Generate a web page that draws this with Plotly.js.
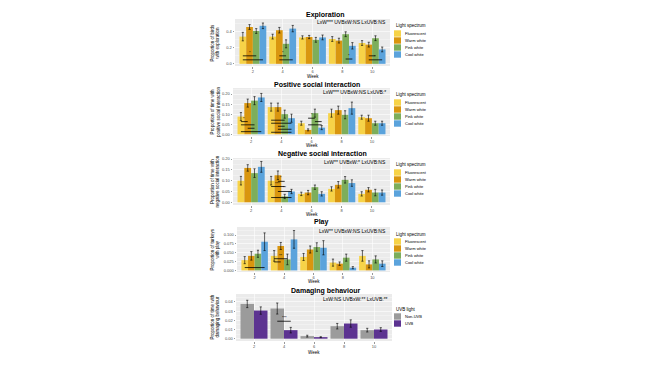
<!DOCTYPE html>
<html><head><meta charset="utf-8">
<script src="https://cdn.plot.ly/plotly-3.0.1.min.js"></script>
<style>html,body{margin:0;padding:0;background:#fff;}#chart{width:650px;height:366px;}</style>
</head><body><div id="chart"></div>
<script>
// ---------- data ----------
const weeks = ["2", "4", "6", "8", "10"];
const spectra = ["Fluorescent", "Warm white", "Pink white", "Cool white"];
const uvbLevels = ["Non-UVB", "UVB"];
const spectrumColors = ["#F7D348", "#D9960F", "#7DAE5B", "#5BA3DC"];
const uvbColors = ["#9B9B9B", "#5C3391"];

// rows = series, columns = weeks
const explorationMean = [
  [0.34, 0.34, 0.33, 0.31, 0.26],
  [0.46, 0.42, 0.335, 0.29, 0.24],
  [0.41, 0.25, 0.30, 0.37, 0.32],
  [0.475, 0.44, 0.33, 0.225, 0.18]
];
const explorationSE = [
  [0.053, 0.03, 0.02, 0.03, 0.03],
  [0.03, 0.035, 0.02, 0.03, 0.03],
  [0.03, 0.05, 0.03, 0.03, 0.03],
  [0.035, 0.04, 0.03, 0.04, 0.03]
];
const positiveMean = [
  [0.088, 0.135, 0.055, 0.105, 0.085],
  [0.155, 0.135, 0.022, 0.12, 0.08],
  [0.167, 0.10, 0.105, 0.097, 0.055],
  [0.183, 0.08, 0.033, 0.13, 0.055]
];
const positiveSE = [
  [0.02, 0.02, 0.01, 0.02, 0.01],
  [0.02, 0.02, 0.005, 0.02, 0.015],
  [0.02, 0.02, 0.02, 0.02, 0.01],
  [0.02, 0.02, 0.01, 0.03, 0.01]
];
const negativeMean = [
  [0.10, 0.10, 0.039, 0.062, 0.039],
  [0.159, 0.125, 0.045, 0.081, 0.058],
  [0.135, 0.027, 0.07, 0.104, 0.045],
  [0.164, 0.05, 0.039, 0.089, 0.045]
];
const negativeSE = [
  [0.02, 0.02, 0.008, 0.01, 0.01],
  [0.015, 0.02, 0.01, 0.015, 0.01],
  [0.02, 0.01, 0.01, 0.015, 0.015],
  [0.025, 0.01, 0.01, 0.015, 0.012]
];
const playMean = [
  [0.029, 0.041, 0.038, 0.022, 0.041],
  [0.041, 0.069, 0.059, 0.019, 0.017],
  [0.047, 0.031, 0.066, 0.036, 0.031],
  [0.081, 0.0876, 0.064, 0.0076, 0.019]
];
const playSE = [
  [0.01, 0.015, 0.01, 0.01, 0.015],
  [0.012, 0.01, 0.01, 0.005, 0.01],
  [0.01, 0.015, 0.012, 0.01, 0.01],
  [0.025, 0.025, 0.02, 0.003, 0.008]
];
const damagingMean = [
  [0.0378, 0.0328, 0.0028, 0.0136, 0.0093],
  [0.0306, 0.0093, 0.0017, 0.0165, 0.0100]
];
const damagingSE = [
  [0.004, 0.006, 0.001, 0.003, 0.002],
  [0.004, 0.003, 0.0005, 0.004, 0.002]
];

// significance brackets: [weekIndex, fromSeries, toSeries, yValue, label]
const explorationBrackets = [[0,0,2,0.10,"*"],[0,0,3,0.05,""],[1,1,2,0.10,"*"],[1,1,3,0.05,""],[3,2,3,0.06,"*"],[4,1,2,0.10,""],[4,1,3,0.05,"*"]];
const positiveBrackets = [[0,0,1,0.063,"*"],[0,0,2,0.047,""],[0,1,2,0.03,""],[0,0,3,0.013,""],[1,0,2,0.07,""],[1,0,3,0.055,""],[1,1,2,0.04,""],[1,1,3,0.025,""],[1,0,3,0.01,""],[2,1,2,0.08,"*"],[2,2,3,0.063,""],[2,1,3,0.047,""]];
const negativeBrackets = [[1,1,2,0.097,"*"],[1,0,2,0.073,"***"],[1,1,3,0.05,"**"],[1,0,3,0.022,""]];
const playBrackets = [[0,0,3,0.008,""],[1,0,2,0.033,"**"],[1,0,1,0.024,""]];
const damagingBrackets = [[1,0,1,0.019,"***"]];

// ---------- layout helpers ----------
const W = 650, H = 366;
const px = v => v / W;
const py = v => 1 - v / H;
const FONT = "Liberation Sans, Arial, sans-serif";

const panels = [
  {title:"Exploration", tx:325, ty:15, sub:"LxW*** UVBxW:NS LxUVB:NS", sy:22,
   ytitle:"Proportion of birds<br>with exploration", means:explorationMean, se:explorationSE, brackets:explorationBrackets,
   names:spectra, colors:spectrumColors, legendTitle:"Light spectrum", legY:26,
   x:[235,390], y:[19,66], range:[-0.027,0.56], dtick:0.2, fmt:".1f", weekY:76},
  {title:"Positive social interaction", tx:317, ty:84, sub:"LxW*** UVBxW:NS LxUVB:*", sy:92,
   ytitle:"Proportion of time with<br>positive social interaction", means:positiveMean, se:positiveSE, brackets:positiveBrackets,
   names:spectra, colors:spectrumColors, legendTitle:"Light spectrum", legY:95,
   x:[233,390], y:[88,136], range:[-0.0085,0.23], dtick:0.05, fmt:".2f", weekY:145},
  {title:"Negative social interaction", tx:322, ty:154, sub:"LxW** UVBxW:* LxUVB:NS", sy:162,
   ytitle:"Proportion of time with<br>negative social interaction", means:negativeMean, se:negativeSE, brackets:negativeBrackets,
   names:spectra, colors:spectrumColors, legendTitle:"Light spectrum", legY:165,
   x:[233,390], y:[158,205], range:[-0.0125,0.205], dtick:0.05, fmt:".2f", weekY:214},
  {title:"Play", tx:321, ty:222, sub:"LxW** UVBxW:NS LxUVB:NS", sy:231,
   ytitle:"Proportion of turkeys<br>with play", means:playMean, se:playSE, brackets:playBrackets,
   names:spectra, colors:spectrumColors, legendTitle:"Light spectrum", legY:234,
   x:[237,390], y:[227,272], range:[-0.0045,0.1226], dtick:0.025, fmt:".3f", weekY:281},
  {title:"Damaging behaviour", tx:326, ty:291, sub:"LxW:NS UVBxW:** LxUVB:**", sy:299,
   ytitle:"Proportion of time with<br>damaging behaviour", means:damagingMean, se:damagingSE, brackets:damagingBrackets,
   names:uvbLevels, colors:uvbColors, legendTitle:"UVB light", legY:309,
   x:[236,392], y:[294,341], range:[-0.0025,0.0486], dtick:0.01, fmt:".2f", weekY:352}
];

const data = [];
const shapes = [];
const annotations = [];
const layout = {
  width: W, height: H, autosize: false,
  margin: {l:0, r:0, t:0, b:0},
  paper_bgcolor: "#fff", plot_bgcolor: "#EBEBEB",
  barmode: "group", bargap: 0.1, bargroupgap: 0,
  showlegend: false,
  font: {family: FONT, size: 4, color: "#4D4D4D"},
  shapes: shapes, annotations: annotations
};

panels.forEach((p, i) => {
  const k = i + 1;
  const xa = "x" + (k === 1 ? "" : k), ya = "y" + (k === 1 ? "" : k);
  const xName = "xaxis" + (k === 1 ? "" : k), yName = "yaxis" + (k === 1 ? "" : k);
  const n = p.names.length;
  const bw = 0.9 / n;
  const off = g => -0.45 + bw * (g + 0.5);

  p.names.forEach((nm, g) => {
    data.push({
      type: "bar", name: nm, x: [0,1,2,3,4], y: p.means[g],
      xaxis: xa, yaxis: ya,
      marker: {color: p.colors[g], line: {width: 0}},
      error_y: {type: "data", array: p.se[g], visible: true, color: "#000", thickness: 0.6, width: 1.1},
      hoverinfo: "skip"
    });
  });

  layout[xName] = {
    domain: [px(p.x[0]), px(p.x[1])], anchor: ya,
    range: [-0.6, 4.6], tickmode: "array", tickvals: [0,1,2,3,4], ticktext: weeks,
    showgrid: true, gridcolor: "#FFFFFF", gridwidth: 0.6, zeroline: false, showline: false,
    ticks: "outside", ticklen: 1.5, tickwidth: 0.5, tickcolor: "#333",
    tickfont: {size: 4, color: "#4D4D4D"}, fixedrange: true
  };
  layout[yName] = {
    domain: [py(p.y[1]), py(p.y[0])], anchor: xa,
    range: p.range, tickmode: "linear", tick0: 0, dtick: p.dtick, tickformat: p.fmt,
    showgrid: true, gridcolor: "#FFFFFF", gridwidth: 0.6, zeroline: false, showline: false,
    minor: {dtick: p.dtick / 2, showgrid: true, gridcolor: "#FFFFFF", gridwidth: 0.3, ticks: ""},
    ticks: "outside", ticklen: 1.5, tickwidth: 0.5, tickcolor: "#333",
    tickfont: {size: 4, color: "#4D4D4D"}, fixedrange: true
  };

  // significance brackets drawn in data coordinates
  p.brackets.forEach(b => {
    const x0 = b[0] + off(b[1]), x1 = b[0] + off(b[2]);
    shapes.push({type: "line", xref: xa, yref: ya, x0: x0, x1: x1, y0: b[3], y1: b[3],
      line: {color: "#000", width: 0.8}, layer: "above"});
    if (b[4]) annotations.push({xref: xa, yref: ya, x: (x0 + x1) / 2, y: b[3], text: b[4],
      showarrow: false, yanchor: "bottom", yshift: -1, font: {size: 4, color: "#000"}});
  });

  // titles
  annotations.push({xref: "paper", yref: "paper", x: px(p.tx), y: py(p.ty), text: "<b>" + p.title + "</b>",
    showarrow: false, xanchor: "center", yanchor: "middle", font: {size: 7, color: "#000000"}});
  annotations.push({xref: "paper", yref: "paper", x: px(p.x[1] - 2), y: py(p.sy), text: p.sub,
    showarrow: false, xanchor: "right", yanchor: "middle", font: {size: 5, color: "#000"}});
  annotations.push({xref: "paper", yref: "paper", x: px((p.x[0] + p.x[1]) / 2), y: py(p.weekY), text: "Week",
    showarrow: false, xanchor: "center", yanchor: "middle", font: {size: 4.5, color: "#000"}});
  annotations.push({xref: "paper", yref: "paper", x: px(215), y: py((p.y[0] + p.y[1]) / 2), text: p.ytitle,
    showarrow: false, textangle: -90, xanchor: "center", yanchor: "middle", font: {size: 4.5, color: "#000"}});

  // legend (keys + labels)
  const lx = 394, ly = p.legY, kh = 7;
  annotations.push({xref: "paper", yref: "paper", x: px(lx), y: py(ly), text: p.legendTitle,
    showarrow: false, xanchor: "left", yanchor: "middle", font: {size: 4.5, color: "#000"}});
  p.names.forEach((nm, g) => {
    const top = ly + 4 + g * kh;
    shapes.push({type: "rect", xref: "paper", yref: "paper", x0: px(lx), x1: px(lx + 7),
      y0: py(top + kh - 0.3), y1: py(top + 0.3), fillcolor: p.colors[g], line: {width: 0}});
    annotations.push({xref: "paper", yref: "paper", x: px(lx + 9), y: py(top + kh / 2), text: nm,
      showarrow: false, xanchor: "left", yanchor: "middle", font: {size: 4, color: "#000"}});
  });
});

Plotly.newPlot("chart", data, layout, {staticPlot: true, displayModeBar: false});
</script></body></html>
